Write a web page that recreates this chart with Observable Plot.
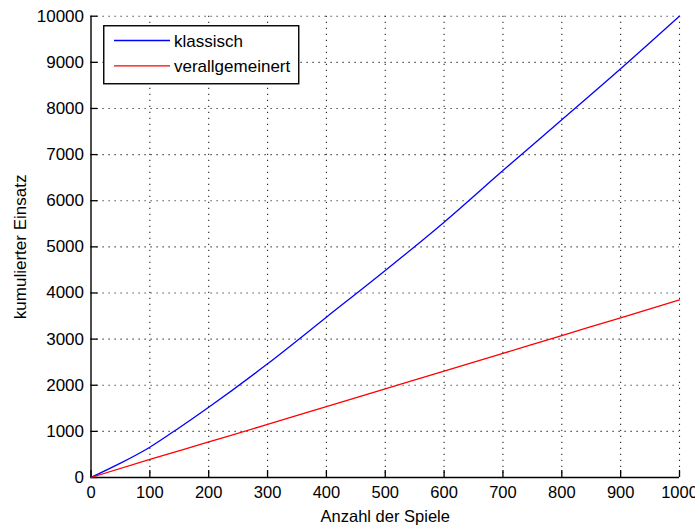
<!DOCTYPE html>
<html>
<head>
<meta charset="utf-8">
<script src="https://cdn.jsdelivr.net/npm/d3@7"></script>
<script src="https://cdn.jsdelivr.net/npm/@observablehq/plot@0.6"></script>
<style>
  body { margin: 0; background: #fff; }
  #chart { position: relative; width: 695px; height: 526px; }
  #legend { position: absolute; left: 103px; top: 25px; }
</style>
</head>
<body>
<div id="chart"></div>
<script>
// Anzahl der Spiele (x) und kumulierter Einsatz (y) für beide Strategien
const spiele      = [0, 50, 100, 150, 200, 300, 400, 500, 600, 700, 800, 900, 1000];
const klassisch   = [0, 310, 657, 1080, 1524, 2465, 3475, 4487, 5535, 6655, 7754, 8860, 10000];
const spieleV     = [0, 100, 200, 300, 400, 500, 600, 700, 800, 900, 1000];
const verallgemeinert = [0, 392, 770, 1150, 1539, 1922, 2305, 2690, 3078, 3462, 3852];

const seriesNames  = ["klassisch", "verallgemeinert"];
const seriesColors = ["#0000ff", "#ff0000"];

const xTicks = [0, 100, 200, 300, 400, 500, 600, 700, 800, 900, 1000];
const yTicks = [0, 1000, 2000, 3000, 4000, 5000, 6000, 7000, 8000, 9000, 10000];

const rowsK = spiele.map((x, i) => ({x, y: klassisch[i]}));
const rowsV = spieleV.map((x, i) => ({x, y: verallgemeinert[i]}));

const W = 695, H = 526;
const mL = 90.5, mR = 16, mT = 15.7, mB = 49;
const innerW = W - mL - mR, innerH = H - mT - mB;
const tickLen = 7;
const font = "'Liberation Sans', Arial, sans-serif";
const grid = {stroke: "#000", strokeOpacity: 0.85, strokeWidth: 1.1, strokeDasharray: "1.2,4.8"};

const plot = Plot.plot({
  width: W,
  height: H,
  marginLeft: mL,
  marginRight: mR,
  marginTop: mT,
  marginBottom: mB,
  style: {fontFamily: font, fontSize: "17px", color: "#000", background: "#fff", overflow: "visible"},
  x: {domain: [0, 1000], label: null},
  y: {domain: [0, 10000], label: null},
  marks: [
    // gepunktetes Gitter
    Plot.ruleX(xTicks.slice(1), grid),
    Plot.ruleY(yTicks.slice(1), grid),
    // Achsenbeschriftungen
    Plot.axisX(xTicks, {tickSize: 0, tickPadding: 9, fontSize: 16.5, tickFormat: d => String(d),
      label: "Anzahl der Spiele", labelAnchor: "center", labelArrow: "none", labelOffset: 44}),
    Plot.axisY(yTicks, {tickSize: 0, tickPadding: 7, fontSize: 17, tickFormat: d => String(d),
      label: "kumulierter Einsatz", labelAnchor: "center", labelArrow: "none", labelOffset: 77}),
    // nach innen zeigende Teilstriche
    Plot.tickX(xTicks, {x: d => d, stroke: "#000", strokeWidth: 1.3, insetTop: innerH - tickLen}),
    Plot.tickY(yTicks, {y: d => d, stroke: "#000", strokeWidth: 1.3, insetRight: innerW - tickLen}),
    // Achsenlinien links und unten
    Plot.ruleX([0], {stroke: "#000", strokeWidth: 1.4}),
    Plot.ruleY([0], {stroke: "#000", strokeWidth: 1.4}),
    // Kurven
    Plot.line(rowsK, {x: "x", y: "y", stroke: seriesColors[0], strokeWidth: 1.3, curve: "monotone-x"}),
    Plot.line(rowsV, {x: "x", y: "y", stroke: seriesColors[1], strokeWidth: 1.3, curve: "monotone-x"})
  ]
});

const chart = document.getElementById("chart");
chart.appendChild(plot);

// Legende oben links im Diagramm
const ns = "http://www.w3.org/2000/svg";
const leg = document.createElementNS(ns, "svg");
leg.setAttribute("id", "legend");
leg.setAttribute("width", 197);
leg.setAttribute("height", 60);
leg.style.fontFamily = font;
leg.style.fontSize = "17px";
const box = document.createElementNS(ns, "rect");
box.setAttribute("x", 0.75); box.setAttribute("y", 0.75);
box.setAttribute("width", 195); box.setAttribute("height", 58);
box.setAttribute("fill", "#fff"); box.setAttribute("stroke", "#000"); box.setAttribute("stroke-width", 1.4);
leg.appendChild(box);
seriesNames.forEach((name, i) => {
  const cy = 15.5 + i * 25.4;
  const ln = document.createElementNS(ns, "line");
  ln.setAttribute("x1", 11); ln.setAttribute("x2", 67);
  ln.setAttribute("y1", cy); ln.setAttribute("y2", cy);
  ln.setAttribute("stroke", seriesColors[i]); ln.setAttribute("stroke-width", 1.3);
  leg.appendChild(ln);
  const tx = document.createElementNS(ns, "text");
  tx.setAttribute("x", 71); tx.setAttribute("y", cy + 6.5);
  tx.textContent = name;
  leg.appendChild(tx);
});
chart.appendChild(leg);
</script>
</body>
</html>
